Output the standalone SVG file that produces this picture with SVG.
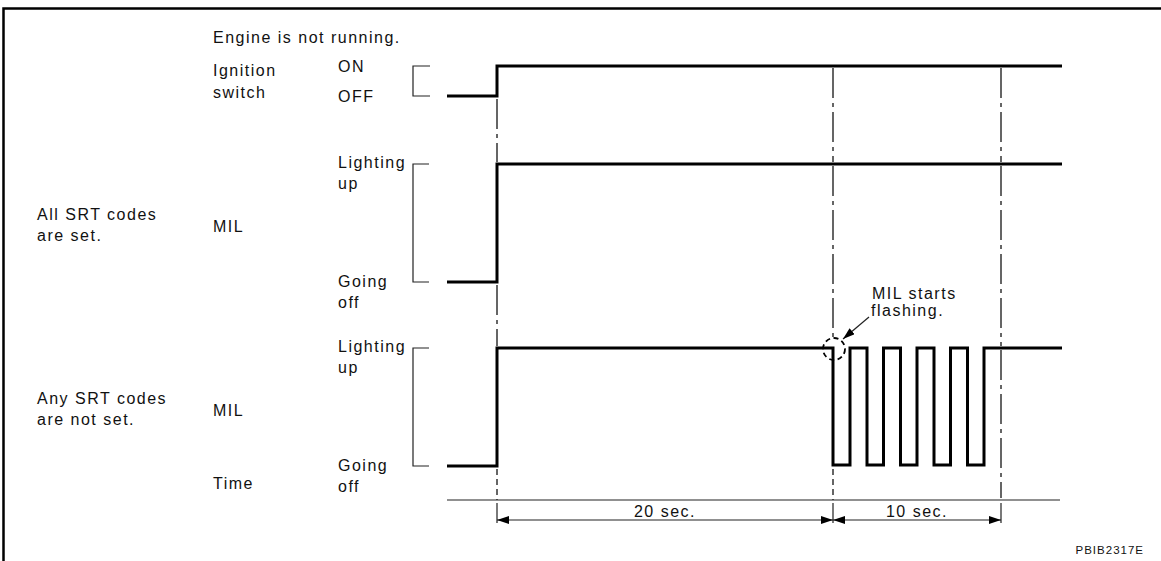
<svg xmlns="http://www.w3.org/2000/svg" width="1161" height="561" viewBox="0 0 1161 561">
<defs>
<style>
.t{font-family:"Liberation Sans",Arial,sans-serif;font-size:16px;letter-spacing:1.5px;fill:#111}
.s{font-family:"Liberation Sans",Arial,sans-serif;font-size:11.5px;letter-spacing:1px;fill:#111}
.w{fill:none;stroke:#000;stroke-width:3}
.b{fill:none;stroke:#222;stroke-width:1.2}
.dd{fill:none;stroke:#333;stroke-width:1.5;stroke-dasharray:30 5 4 5}
.ds{fill:none;stroke:#333;stroke-width:1.5;stroke-dasharray:6 4}
.tk{fill:none;stroke:#222;stroke-width:1.2}
.dim{fill:none;stroke:#222;stroke-width:1.2}
</style>
<marker id="ah" viewBox="0 0 12 8" refX="12" refY="4" markerWidth="12" markerHeight="8" markerUnits="userSpaceOnUse" orient="auto-start-reverse">
<path d="M0,0 L12,4 L0,8 z" fill="#000"/>
</marker>
</defs>
<rect width="1161" height="561" fill="#fff"/>
<g id="frame">
<path d="M3.5,561 V8.5 H1161" fill="none" stroke="#000" stroke-width="2.5"/>
</g>
<g id="labels">
<text class="t" x="213" y="43">Engine is not running.</text>
<text class="t" x="213" y="76">Ignition</text>
<text class="t" x="213" y="98">switch</text>
<text class="t" x="338" y="72">ON</text>
<text class="t" x="338" y="102">OFF</text>
<text class="t" x="37" y="220">All SRT codes</text>
<text class="t" x="37" y="241">are set.</text>
<text class="t" x="213" y="232">MIL</text>
<text class="t" x="338" y="168">Lighting</text>
<text class="t" x="338" y="189">up</text>
<text class="t" x="338" y="287">Going</text>
<text class="t" x="338" y="308">off</text>
<text class="t" x="37" y="404">Any SRT codes</text>
<text class="t" x="37" y="425">are not set.</text>
<text class="t" x="213" y="416">MIL</text>
<text class="t" x="338" y="352">Lighting</text>
<text class="t" x="338" y="373">up</text>
<text class="t" x="338" y="471">Going</text>
<text class="t" x="338" y="492">off</text>
<text class="t" x="213" y="489">Time</text>
<text class="t" x="872" y="299">MIL starts</text>
<text class="t" x="871" y="316">flashing.</text>
<text class="t" x="665" y="517" text-anchor="middle">20 sec.</text>
<text class="t" x="917" y="517" text-anchor="middle">10 sec.</text>
<text class="s" x="1144" y="554" text-anchor="end">PBIB2317E</text>
</g>
<g id="ignition">
<path class="b" d="M430,66 H413 V96 H430"/>
<path class="w" d="M447,96 H497 V66 H1062"/>
</g>
<g id="mil-all-set">
<path class="b" d="M429,164 H413 V282 H429"/>
<path class="w" d="M447,282 H497 V164 H1062"/>
</g>
<g id="mil-not-set">
<path class="b" d="M429,348 H413 V466 H429"/>
<path class="w" d="M447,466 H497 V348 H833 V465 H850 V348 H867 V465 H883.5 V348 H900.5 V465 H917 V348 H934 V465 H950.5 V348 H967.5 V465 H984 V348 H1062"/>
<circle cx="834" cy="349" r="11" fill="none" stroke="#000" stroke-width="1.8" stroke-dasharray="5 3.5"/>
</g>
<g id="connectors">
<path class="dd" d="M497,99 V162 M497,285 V346 M833,68 V162 M833,166 V340 M1001,68 V162 M1001,166 V346 M1001,350 V498"/>
<path class="ds" d="M497,469 V500 M833,469 V500"/>
<path class="b" d="M447,500 H1060"/>
<path class="tk" d="M497,503 V523 M833,503 V523 M1001,503 V523"/>
<path class="dim" d="M497,520 H833" marker-start="url(#ah)" marker-end="url(#ah)"/>
<path class="dim" d="M833,520 H1001" marker-start="url(#ah)" marker-end="url(#ah)"/>
<path class="dim" d="M869,317 L843,339" marker-end="url(#ah)"/>
</g>
</svg>
